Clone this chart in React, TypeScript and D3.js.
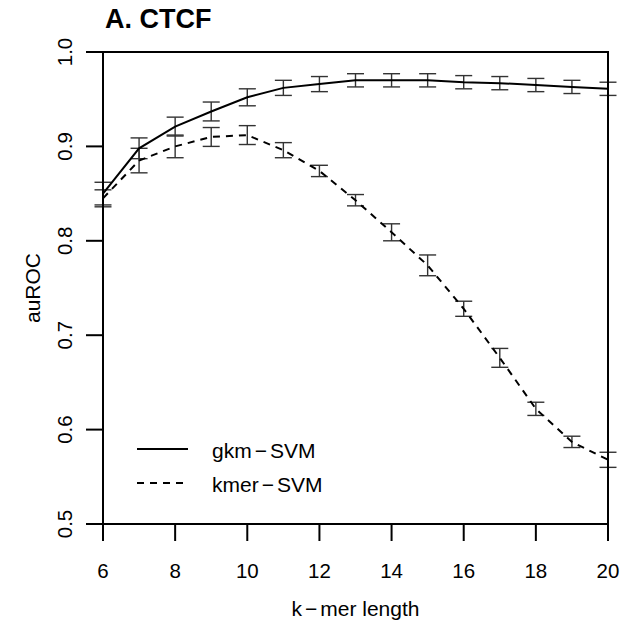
import React from "react";
import * as d3 from "d3";

const kValues = [6, 7, 8, 9, 10, 11, 12, 13, 14, 15, 16, 17, 18, 19, 20];
const gkmMean = [0.850, 0.898, 0.921, 0.937, 0.952, 0.962, 0.966, 0.970, 0.970, 0.970, 0.968, 0.967, 0.965, 0.963, 0.961];
const gkmErr = [0.012, 0.011, 0.010, 0.010, 0.009, 0.008, 0.008, 0.007, 0.007, 0.007, 0.007, 0.007, 0.007, 0.007, 0.007];
const kmerMean = [0.845, 0.885, 0.900, 0.910, 0.912, 0.896, 0.874, 0.843, 0.809, 0.774, 0.728, 0.676, 0.622, 0.587, 0.568];
const kmerErr = [0.009, 0.013, 0.012, 0.010, 0.010, 0.008, 0.006, 0.006, 0.009, 0.011, 0.008, 0.010, 0.007, 0.006, 0.008];
const xTicks = [6, 8, 10, 12, 14, 16, 18, 20];
const yTicks = [0.5, 0.6, 0.7, 0.8, 0.9, 1.0];
const seriesNames = [
  ["gkm", "SVM"],
  ["kmer", "SVM"],
];
const xTitle = ["k", "mer length"];

const W = 623;
const H = 624;
const left = 103;
const right = 608;
const top = 52;
const bottom = 524;
const FONT = "'Liberation Sans', Arial, Helvetica, sans-serif";
const MINUS = "\u2212";

function MinusText({ parts }: { parts: string[] }) {
  return (
    <>
      <tspan>{parts[0]}</tspan>
      <tspan dx={3}>{MINUS}</tspan>
      <tspan dx={3}>{parts[1]}</tspan>
    </>
  );
}

export default function App() {
  const x = d3.scaleLinear().domain([6, 20]).range([left, right]);
  const y = d3.scaleLinear().domain([0.5, 1.0]).range([bottom, top]);
  const line = d3
    .line<number>()
    .x((_, i) => x(kValues[i]))
    .y((d) => y(d));

  const series = [
    { mean: gkmMean, err: gkmErr, dash: undefined as string | undefined },
    { mean: kmerMean, err: kmerErr, dash: "7,6" },
  ];
  const cap = 8.5;

  return (
    <svg
      width={W}
      height={H}
      style={{ position: "absolute", left: 0, top: 0, background: "#fff" }}
      fontFamily={FONT}
    >
      <rect x={0} y={0} width={W} height={H} fill="#fff" />
      <text x={105} y={28} fontSize={27} fontWeight="bold" fill="#000">
        A. CTCF
      </text>

      {/* error bars */}
      {series.map((s, si) =>
        s.mean.map((m, i) => {
          const cx = x(kValues[i]);
          const y1 = y(m + s.err[i]);
          const y2 = y(m - s.err[i]);
          return (
            <g key={`e${si}-${i}`} stroke="#333" strokeWidth={1.4} fill="none">
              <line x1={cx} x2={cx} y1={y1} y2={y2} />
              <line x1={cx - cap} x2={cx + cap} y1={y1} y2={y1} />
              <line x1={cx - cap} x2={cx + cap} y1={y2} y2={y2} />
            </g>
          );
        })
      )}

      {/* lines */}
      {series.map((s, si) => (
        <path
          key={`l${si}`}
          d={line(s.mean) || ""}
          fill="none"
          stroke="#000"
          strokeWidth={2}
          strokeDasharray={s.dash}
        />
      ))}

      {/* box */}
      <rect x={left} y={top} width={right - left} height={bottom - top} fill="none" stroke="#000" strokeWidth={2} />

      {/* x axis */}
      {xTicks.map((t) => (
        <g key={`xt${t}`}>
          <line x1={x(t)} x2={x(t)} y1={bottom} y2={bottom + 17} stroke="#000" strokeWidth={2} />
          <text x={x(t)} y={578} fontSize={20.5} textAnchor="middle" fill="#000">
            {t}
          </text>
        </g>
      ))}
      <text x={(left + right) / 2} y={616} fontSize={21} textAnchor="middle" fill="#000">
        <MinusText parts={xTitle} />
      </text>

      {/* y axis */}
      {yTicks.map((t) => (
        <g key={`yt${t}`}>
          <line x1={left - 17} x2={left} y1={y(t)} y2={y(t)} stroke="#000" strokeWidth={2} />
          <text
            transform={`translate(72, ${y(t)}) rotate(-90)`}
            fontSize={20.5}
            textAnchor="middle"
            fill="#000"
          >
            {t.toFixed(1)}
          </text>
        </g>
      ))}
      <text transform={`translate(40, ${(top + bottom) / 2}) rotate(-90)`} fontSize={21} textAnchor="middle" fill="#000">
        auROC
      </text>

      {/* legend */}
      {series.map((s, si) => {
        const ly = 449 + si * 34;
        return (
          <g key={`lg${si}`}>
            <line x1={137} x2={188} y1={ly} y2={ly} stroke="#000" strokeWidth={2} strokeDasharray={s.dash} />
            <text x={212} y={ly + 9} fontSize={21} fill="#000">
              <MinusText parts={seriesNames[si]} />
            </text>
          </g>
        );
      })}
    </svg>
  );
}
